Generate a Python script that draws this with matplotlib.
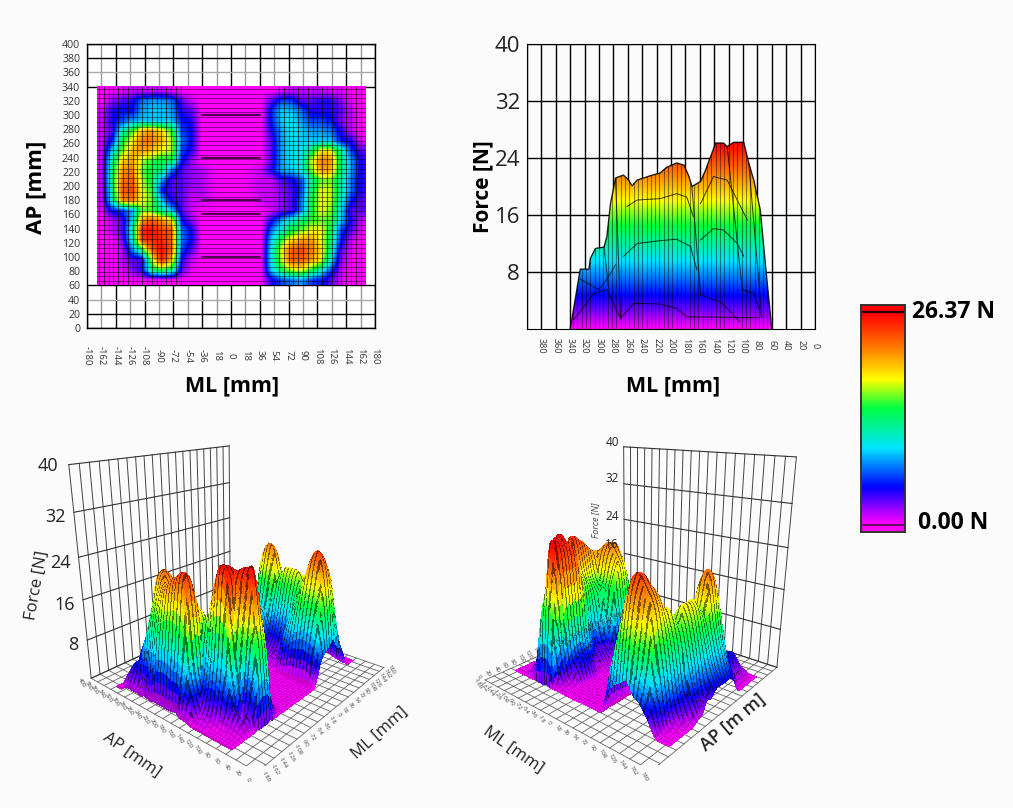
import numpy as np
import matplotlib
matplotlib.use("Agg")
import matplotlib.pyplot as plt
from matplotlib.colors import LinearSegmentedColormap, Normalize
from matplotlib.patches import Polygon, Rectangle
from matplotlib.tri import Triangulation, CubicTriInterpolator
from mpl_toolkits.mplot3d import proj3d

plt.rcParams['font.family'] = ['Open Sans', 'DejaVu Sans']

# force [N], rows from AP 340 down to AP 60
left_foot = [
    [0, 0, 0.5, 1, 1, 1, 1, 0.5, 0, 0],
    [0, 2, 3, 4, 7, 8, 8, 7, 3, 1],
    [1, 4, 5, 4.5, 8, 9, 9, 8, 4, 3],
    [1, 4, 6, 8, 9, 9, 9, 9, 5, 4],
    [1, 3, 11, 15, 20, 21, 19, 15, 6, 4.5],
    [1, 5, 14, 18, 22, 22, 20, 17, 7, 4.5],
    [1, 9, 16, 20, 21, 20, 18, 17, 6, 4],
    [1, 12, 19, 21, 17, 15, 14, 14, 5, 2],
    [1, 13, 21, 22, 16, 14, 13, 7, 3, 2],
    [1, 13, 22, 23, 17, 14, 8, 3, 3, 2],
    [1, 12, 23, 24, 18, 15, 5, 3, 3, 1.5],
    [1, 11, 21, 22, 18, 16, 9, 4, 3, 1],
    [0.5, 5, 6, 8, 16, 15, 12, 9, 3, 1],
    [0, 1, 3, 9, 21, 23, 21, 19, 5, 2],
    [0, 1, 3, 11, 25, 26, 24, 23, 7, 4.5],
    [0, 0, 2, 10, 24, 25, 25, 23, 7, 4.5],
    [0, 0, 1, 7, 13, 23, 26, 23, 6, 3],
    [0, 0, 1, 3, 3, 17, 25, 20, 4, 1],
    [0, 0, 0.5, 2, 4, 13, 15, 13, 3, 0.5],
    [0, 0, 0, 0, 0, 0, 0, 0, 0, 0],
]
middle_gap = [
    [0, 0, 0, 0, 0, 0, 0], [0, 0, 0, 0, 0, 0, 0], [0, 0, 0, 0, 0, 0, 0],
    [0, 0, 0, 0, 0, 0, 0], [0, 0, 0, 0, 0, 0, 0], [0, 0, 0, 0, 0, 0, 0],
    [0, 0, 0, 0, 0, 0, 0], [0, 0, 0, 0, 0, 0, 0],
    [1.5, 0.5, 0, 0, 0, 0.5, 1], [1.5, 0.5, 0, 0, 0, 0.5, 1],
    [1.5, 0.5, 0, 0, 0, 0.5, 1], [1, 0.5, 0, 0, 0, 0, 1],
    [0, 0, 0, 0, 0, 0, 0], [0, 0, 0, 0, 0, 0, 0], [0, 0, 0, 0, 0, 0, 0],
    [0, 0, 0, 0, 0, 0, 0], [0, 0, 0, 0, 0, 0, 0], [0, 0, 0, 0, 0, 0, 0],
    [0, 0, 0, 0, 0, 0, 0], [0, 0, 0, 0, 0, 0, 0],
]
right_foot = [
    [0, 0.5, 1, 1, 1, 1, 0.5, 0.5, 0, 0],
    [3, 6, 6, 3, 3, 4, 4, 2, 0.5, 0],
    [5, 9, 9, 7, 4, 4, 4, 3, 1, 0],
    [5, 9, 10, 8, 6, 6, 5, 2, 1, 0],
    [4, 8, 10, 9, 8, 8, 7, 4, 1, 0],
    [3, 8, 10, 9, 9, 9, 9, 5, 4, 0.5],
    [3, 8, 10, 10, 13, 19, 18, 12, 6, 3],
    [3, 8, 10, 10, 17, 22, 21, 13, 8, 4],
    [4, 8, 9, 10, 16, 21, 20, 13, 8, 4],
    [1, 3, 4, 6, 12, 16, 16, 12, 7, 4],
    [1, 2, 3, 6, 13, 18, 17, 12, 7, 4],
    [1, 2, 3, 7, 14, 18, 17, 11, 5, 3],
    [1, 2, 3, 7, 14, 18, 16, 10, 3, 3],
    [4, 8, 11, 13, 15, 16, 15, 9, 4, 1],
    [7, 11, 14, 16, 18, 18, 14, 6, 3, 0.5],
    [9, 15, 19, 21, 21, 18, 13, 5, 1, 0],
    [10, 18, 23, 24, 22, 19, 12, 3, 0.5, 0],
    [10, 17, 23, 23, 21, 18, 10, 2, 0, 0],
    [9, 14, 17, 18, 15, 11, 6, 1, 0, 0],
    [4, 6, 7, 8, 6, 5, 3, 0.5, 0, 0],
]

# outline of the side view (top right)
side_ap = [340, 326, 314, 312, 305, 293, 289, 284, 277, 266, 259, 254, 247, 229, 215, 206,
           192, 182, 175, 171, 159, 152, 138, 127, 122, 113, 99, 92, 85, 76, 69, 60]
side_force = [0, 8.4, 8.4, 9.9, 11.3, 11.5, 13, 17.6, 21.2, 21.6, 20.9, 20.1, 20.9, 21.5, 21.9, 22.7,
              23.3, 23, 21.4, 20, 20.7, 22.3, 26.1, 26.1, 25.6, 26.2, 26.2, 23.3, 20.9, 16.7, 9.2, 0]

# inner lines of the side view
side_lines = [
    ([261, 247, 215, 192, 178, 169], [17.2, 18.1, 18.3, 19, 18.5, 15.8]),
    ([266, 247, 215, 192, 173, 164], [10.2, 12, 12.4, 12.6, 11.6, 8.3]),
    ([270, 252, 215, 192, 178, 76], [1.5, 3.6, 3.5, 2.9, 1.7, 1.6]),
    ([159, 141, 122, 108, 94], [17.6, 21.4, 20.9, 18.1, 15.3]),
    ([159, 141, 127, 108, 99], [12.5, 14.1, 13.9, 12, 10.2]),
    ([159, 131, 104], [4.8, 3.8, 1]),
    ([101, 85, 74], [5.5, 5, 1.7]),
    ([335, 307, 289, 270], [1.3, 5, 5.5, 1.5]),
    ([326, 300, 289, 277], [7, 5.5, 7, 9]),
    ([171, 159], [20, 4.8]),
    ([122, 101], [25.6, 5.5]),
    ([92, 74], [23.3, 1.7]),
    ([277, 270], [21, 1.5]),
    ([293, 287], [11.5, 6]),
]

ml_labels = ['-180', '-162', '-144', '-126', '-108', '-90', '-72', '-54', '-36', '18', '0',
             '18', '36', '54', '72', '90', '108', '126', '144', '162', '180']
ml_ticks = list(range(-180, 181, 18))
ap_ticks = list(range(0, 401, 20))
force_ticks = [8, 16, 24, 32, 40]
side_ticks = list(range(380, -1, -20))
max_force = 26.37

W, H = 1013, 808
BG = '#fbfbfb'
fig = plt.figure(figsize=(W / 100, H / 100), dpi=100, facecolor=BG)

# colours follow the bar on the right
rainbow = LinearSegmentedColormap.from_list('force', [
    (0.0, '#ff00ff'), (0.173, '#0000ff'), (0.36, '#00e5ff'), (0.55, '#00ff40'),
    (0.685, '#ffff00'), (0.83, '#ff8000'), (1.0, '#ff0000')])
norm = Normalize(0, max_force)


def px_axes(x0, y0, x1, y1, **kw):
    return fig.add_axes([x0 / W, 1 - y1 / H, (x1 - x0) / W, (y1 - y0) / H], **kw)


def px_text(x, y, s, **kw):
    kw.setdefault('ha', 'center')
    kw.setdefault('va', 'center')
    fig.text(x / W, 1 - y / H, s, **kw)


force = np.hstack([np.array(left_foot, float), np.array(middle_gap, float), np.array(right_foot, float)])

# --- top left: map
ax = px_axes(87, 44, 375, 328)
ax.set_facecolor('white')
ax.imshow(force, extent=[-168, 168, 60, 340], aspect='auto', cmap=rainbow, norm=norm,
          interpolation='bilinear', zorder=1)
ax.set_xlim(-180, 180)
ax.set_ylim(0, 400)
for i, x in enumerate(ml_ticks):
    ax.plot([x, x], [0, 60], color='k' if i % 2 == 0 else '#999999', lw=1.0, zorder=0)
    ax.plot([x, x], [340, 400], color='k' if i % 2 == 0 else '#999999', lw=1.0, zorder=0)
for y in ap_ticks:
    c = '#aaaaaa' if y in (360, 40) else 'k'
    if y <= 60 or y >= 340:
        ax.axhline(y, color=c, lw=1.0, zorder=0)
# measuring grid over the map
for x in np.arange(-165, -58, 6):
    ax.plot([x, x], [60, 340], color='k', lw=0.8, alpha=0.6, zorder=2)
for x in np.arange(60, 168, 6):
    ax.plot([x, x], [60, 340], color='k', lw=0.8, alpha=0.6, zorder=2)
for y in np.arange(66, 340, 6.6):
    ax.plot([-168, 168], [y, y], color='k', lw=0.7, alpha=0.45, zorder=2)
for y in [100, 160, 180, 240, 300]:
    ax.plot([-36, 36], [y, y], color='k', lw=1.2, alpha=0.8, zorder=3)
ax.set_xticks(ml_ticks)
ax.set_xticklabels(ml_labels, rotation=270, va='center', fontsize=6.8, color='#333333')
ax.set_yticks(ap_ticks)
ax.set_yticklabels(ap_ticks, fontsize=7.6, color='#333333')
ax.tick_params(axis='x', length=0, pad=20)
ax.tick_params(axis='y', length=0, pad=5)
for s in ax.spines.values():
    s.set_linewidth(1.0)
px_text(232, 386, 'ML [mm]', fontsize=15.5, fontweight='bold')
px_text(36, 187, 'AP [mm]', fontsize=16, fontweight='bold', rotation=90)

# --- top right: side view
ax = px_axes(527, 44, 815, 329)
ax.set_facecolor(BG)
ramp = np.arange(0, 101).reshape(-1, 1) / 100 * max_force
img = ax.imshow(ramp, extent=[400, 0, 0, max_force], origin='lower', aspect='auto', cmap=rainbow,
                norm=norm, interpolation='bilinear', zorder=2)
outline = Polygon(np.column_stack([side_ap, side_force]), closed=True, transform=ax.transData)
img.set_clip_path(outline)
ax.set_xlim(400, 0)
ax.set_ylim(0, 40)
for x in range(0, 401, 20):
    ax.plot([x, x], [0, 40], color='k', lw=1.0, zorder=1)
for y in force_ticks:
    ax.plot([0, 400], [y, y], color='k', lw=1.0, zorder=1)
for x in np.arange(60, 340, 6):
    line, = ax.plot([x, x], [0, 30], color='k', lw=0.8, alpha=0.45, zorder=3)
    line.set_clip_path(Polygon(np.column_stack([side_ap, side_force]), closed=True, transform=ax.transData))
for xs, ys in side_lines:
    ax.plot(xs, ys, color='k', lw=0.7, alpha=0.75, zorder=4)
ax.plot(side_ap, side_force, color='k', lw=1.0, alpha=0.85, zorder=5)
ax.set_xticks(side_ticks)
ax.set_xticklabels(side_ticks, rotation=270, va='center', fontsize=6.5, color='#333333')
ax.set_yticks(force_ticks)
ax.set_yticklabels(force_ticks, fontsize=16, color='#222222')
ax.tick_params(axis='x', length=0, pad=12)
ax.tick_params(axis='y', length=0, pad=5)
px_text(673, 386, 'ML [mm]', fontsize=15.5, fontweight='bold')
px_text(483, 187, 'Force [N]', fontsize=15, fontweight='bold', rotation=90)

# --- colour bar
ax = px_axes(861, 305, 905, 532)
ax.imshow(ramp, extent=[0, 1, 0, max_force], origin='lower', aspect='auto', cmap=rainbow, norm=norm,
          interpolation='bilinear')
ax.set_xlim(0, 1)
ax.set_ylim(-0.87, max_force + 0.87)
ax.add_patch(Rectangle((0, max_force), 1, 0.87, color='#ff0000', zorder=1))
ax.add_patch(Rectangle((0, -0.87), 1, 0.87, color='#ff00ff', zorder=1))
ax.axhline(max_force, color='#220000', lw=1.6)
ax.axhline(0, color='#441144', lw=1.2)
ax.set_xticks([])
ax.set_yticks([])
for s in ax.spines.values():
    s.set_linewidth(1.4)
    s.set_color('#333333')
px_text(912, 312, '26.37 N', ha='left', fontsize=16.5, fontweight='bold')
px_text(918, 523, '0.00 N', ha='left', fontsize=16.5, fontweight='bold')

# --- bottom: the same grid as a surface, smoothed by matplotlib's tri interpolator for drawing
rows, cols = force.shape
ml_grid, ap_grid = np.meshgrid(np.linspace(-168, 168, cols), np.linspace(340, 60, rows))
tri = Triangulation(ml_grid.ravel(), ap_grid.ravel())
smooth = CubicTriInterpolator(tri, force.ravel(), kind='geom')
step = 6
ml_fine, ap_fine = np.meshgrid(np.linspace(-168, 168, (cols - 1) * step + 1),
                               np.linspace(340, 60, (rows - 1) * step + 1))
force_fine = np.clip(np.ma.filled(smooth(ml_fine, ap_fine), 0), 0, max_force)


def surface_panel(camera, scale, tx, ty, ap_label_side):
    elev, azim, focal, ax_x, ax_z = camera
    ax3 = px_axes(0, 0, 100, 100, projection='3d', computed_zorder=False)
    ax3.patch.set_alpha(0)
    ax3.set_proj_type('persp', focal_length=focal)
    ax3.view_init(elev=elev, azim=azim)
    ax3.set_box_aspect((ax_x, 1, ax_z))
    ax3.set_xlim(-180, 180)
    ax3.set_ylim(0, 400)
    ax3.set_zlim(0, 40)
    # place the axes so that the camera fit lands on the right pixels
    v = ax3.viewLim
    ax3.set_position([(tx + scale * v.x0) / W, 1 - (ty - scale * v.y0) / H,
                      scale * v.width / W, scale * v.height / H])
    ax3.set_axis_off()
    ax3.set_xticks([])
    ax3.set_yticks([])
    ax3.set_zticks([])
    # floor
    for x in ml_ticks:
        ax3.plot([x, x], [0, 400], [0, 0], color='#666666', lw=0.6, zorder=1)
    for y in ap_ticks:
        ax3.plot([-180, 180], [y, y], [0, 0], color='#666666', lw=0.6, zorder=1)
    # wall behind the surface
    for x in ml_ticks:
        ax3.plot([x, x], [400, 400], [0, 40], color='#444444', lw=0.7, zorder=1)
    for z in [0] + force_ticks:
        ax3.plot([-180, 180], [400, 400], [z, z], color='#333333', lw=0.8, zorder=1)
    colours = rainbow(norm(force_fine))
    # stripes only where the surface is steep, so they run up the flanks
    d_ap, d_ml = np.gradient(force_fine)
    shade = np.ones(force_fine.shape)
    col_line = np.zeros(force_fine.shape, bool)
    col_line[:, ::3] = True
    row_line = np.zeros(force_fine.shape, bool)
    row_line[::3, :] = True
    shade[col_line & (np.abs(d_ap) > np.abs(d_ml))] = 0.5
    shade[row_line & (np.abs(d_ml) >= np.abs(d_ap))] = 0.5
    flat = force_fine < 1.5
    shade[flat] = 1.0
    shade[flat & (col_line | row_line)] = 0.8
    colours[:, :, :3] *= shade[:, :, None]
    ax3.plot_surface(ml_fine, ap_fine, force_fine, facecolors=colours[:-1, :-1], rstride=1, cstride=1,
                     shade=False, linewidth=0.15, edgecolor='none', antialiased=False, zorder=2)
    # floor labels, put through the same camera so they stay plain figure text
    cam = ax3.get_proj()
    for y in ap_ticks:
        xn, yn, _ = proj3d.proj_transform(ap_label_side, y, 0, cam)
        px_text(tx + scale * xn, ty - scale * yn, str(y), fontsize=4.3, rotation=-60, color='#444444')
    for x in ml_ticks:
        xn, yn, _ = proj3d.proj_transform(x, -16, 0, cam)
        px_text(tx + scale * xn, ty - scale * yn, str(x), fontsize=4.3, rotation=-60, color='#444444')
    return ax3


surface_panel((19.285, -139.547, 0.265, 0.987, 0.992), 2013.01, 240.28, 575.06, -198)
surface_panel((17.551, -49.967, 0.256, 0.996, 1.017), 2018.08, 634.46, 572.94, -198)

for x, y, s in [(48, 466, '40'), (55, 517, '32'), (60, 563, '24'), (65, 605, '16'), (73, 645, '8')]:
    px_text(x, y, s, fontsize=13, color='#222222')
px_text(37, 585, 'Force [N]', fontsize=12, rotation=80, color='#222222')
px_text(132, 755, 'AP [mm]', fontsize=12, rotation=-35, color='#222222')
px_text(380, 733, 'ML [mm]', fontsize=12, rotation=42, color='#222222')

for x, y, s in [(612, 442, '40'), (612, 479, '32'), (612, 516, '24'), (612, 545, '16')]:
    px_text(x, y, s, fontsize=8.5, color='#222222')
px_text(596, 520, 'Force [N]', fontsize=6.5, rotation=90, style='italic', color='#444444')
px_text(513, 750, 'ML [mm]', fontsize=12, rotation=-35, color='#222222')
px_text(733, 723, 'AP [m m]', fontsize=13, rotation=40, color='#222222', fontweight='semibold')

fig.savefig('out.png', dpi=100, facecolor=BG)
